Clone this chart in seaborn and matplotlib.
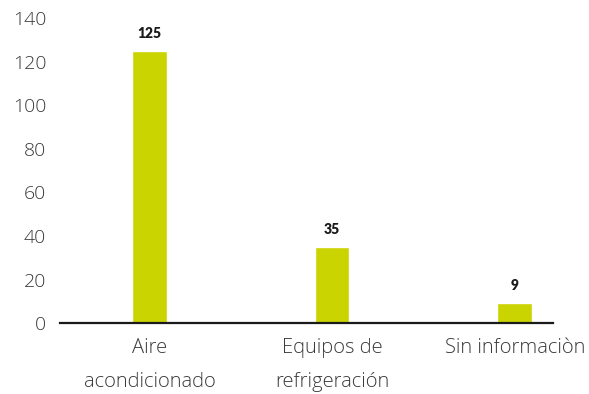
import matplotlib
matplotlib.use("Agg")
import matplotlib.pyplot as plt
import seaborn as sns
import pandas as pd

# data
categories = ["Aire\nacondicionado", "Equipos de\nrefrigeración", "Sin informaciòn"]
values = [125, 35, 9]
y_ticks = [0, 20, 40, 60, 80, 100, 120, 140]

df = pd.DataFrame({"categoria": categories, "valor": values})

sns.set_style("white")
plt.rcParams["font.family"] = ["Open Sans", "DejaVu Sans"]

fig = plt.figure(figsize=(5.89, 3.94), dpi=100)
ax = fig.add_axes([0.102, 0.180, 0.837, 0.774])

sns.barplot(data=df, x="categoria", y="valor", color="#cad400",
            saturation=1, width=0.19, ax=ax)

for i, v in enumerate(values):
    ax.annotate(str(v), (i, v), xytext=(0, 8), textcoords="offset points",
                ha="center", va="bottom", fontsize=10, fontweight="heavy",
                family=["Lato", "DejaVu Sans"], color="#1a1a1a")

ax.set_ylim(0, 140)
ax.set_xlim(-0.49, 2.21)
ax.set_yticks(y_ticks)
ax.set_xlabel("")
ax.set_ylabel("")

for s in ["top", "right", "left"]:
    ax.spines[s].set_visible(False)
ax.spines["bottom"].set_color("#1a1a1a")
ax.spines["bottom"].set_linewidth(1.6)

ax.tick_params(axis="y", length=0, pad=10, labelsize=14, labelcolor="#3a3a3a")
ax.tick_params(axis="x", length=0, pad=11, labelsize=14.5, labelcolor="#3a3a3a")
for lbl in ax.get_yticklabels() + ax.get_xticklabels():
    lbl.set_fontweight("light")
for lbl in ax.get_xticklabels():
    lbl.set_linespacing(1.9)

fig.savefig("out.png", dpi=100)
